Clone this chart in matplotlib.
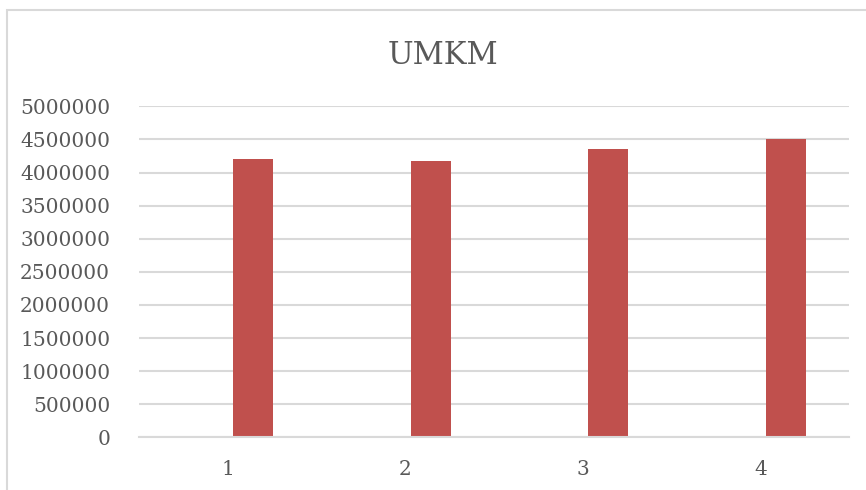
import matplotlib.pyplot as plt
from matplotlib.patches import Rectangle

# --- Données ---
categories = ["1", "2", "3", "4"]
umkm_values = [4210000, 4170000, 4350000, 4500000]
y_ticks = list(range(0, 5000001, 500000))

bar_color = "#C0504D"
grid_color = "#D9D9D9"
text_color = "#595959"

fig = plt.figure(figsize=(8.66, 4.90), dpi=100)
fig.patch.set_facecolor("white")

# cadre de la zone du graphique (coupé à droite et en bas)
fig.patches.append(Rectangle((7 / 866, -0.1), 1.2, 1 - 10 / 490 + 0.1,
                             transform=fig.transFigure, fill=False,
                             edgecolor=grid_color, linewidth=1.5))

ax = fig.add_axes([139.3 / 866, 1 - 437.3 / 490, 710 / 866, 331 / 490])

# la barre est décalée à droite du centre de la catégorie (série vide à gauche)
positions = [i + 0.142 for i in range(len(categories))]
ax.bar(positions, umkm_values, width=0.224, color=bar_color, zorder=3)

ax.set_xlim(-0.5, len(categories) - 0.5)
ax.set_ylim(0, 5000000)
ax.set_yticks(y_ticks)
ax.set_yticklabels([str(v) for v in y_ticks])
ax.set_xticks(range(len(categories)))
ax.set_xticklabels(categories)

ax.grid(axis="y", color=grid_color, linewidth=1.5, zorder=0)
for side in ["top", "right", "left"]:
    ax.spines[side].set_visible(False)
ax.spines["bottom"].set_color(grid_color)
ax.spines["bottom"].set_linewidth(1.5)
ax.spines["bottom"].set_zorder(4)

ax.tick_params(axis="both", length=0, colors=text_color, labelsize=14.5)
ax.tick_params(axis="y", pad=21)
ax.tick_params(axis="x", pad=16)
for lbl in ax.get_xticklabels() + ax.get_yticklabels():
    lbl.set_family("DejaVu Serif")

fig.text(443 / 866, 1 - 55 / 490, "UMKM", ha="center", va="center",
         fontsize=22, color=text_color, family="DejaVu Serif")

fig.savefig("out.png", dpi=100)
